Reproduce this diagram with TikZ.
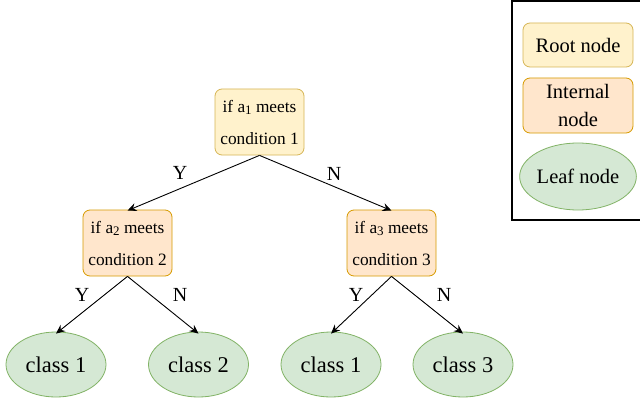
\documentclass[tikz,border=0pt]{standalone}
\usepackage{fontspec}
\setmainfont{Liberation Serif}
\usetikzlibrary{arrows.meta,shapes.geometric}

\definecolor{rootfill}{HTML}{FFF2CC}
\definecolor{rootline}{HTML}{D6B656}
\definecolor{innerfill}{HTML}{FFE6CC}
\definecolor{innerline}{HTML}{D79B00}
\definecolor{leaffill}{HTML}{D5E8D4}
\definecolor{leafline}{HTML}{82B366}

% index attached below the attribute letter
\newcommand{\attrsub}[1]{\raisebox{-0.35ex}{\fontsize{13}{13}\selectfont #1}}

\tikzset{
  rootbox/.style={draw=rootline, fill=rootfill, rounded corners=7pt, line width=0.8pt,
    minimum width=89pt, minimum height=66pt, align=center, inner sep=0pt},
  innerbox/.style={draw=innerline, fill=innerfill, rounded corners=7pt, line width=0.8pt,
    minimum width=89pt, minimum height=66pt, align=center, inner sep=0pt},
  leaf/.style={ellipse, draw=leafline, fill=leaffill, line width=0.8pt,
    minimum width=100pt, minimum height=65pt, inner sep=0pt, font=\fontsize{22.5}{26}\selectfont},
  cond/.style={font=\fontsize{17.3}{32}\selectfont},
  edge/.style={draw, line width=0.9pt, -{Stealth[length=9pt,width=8pt,inset=3pt]}},
  yn/.style={font=\fontsize{20}{22}\selectfont},
  legendtext/.style={font=\fontsize{20.5}{28}\selectfont}
}

\begin{document}
\begin{tikzpicture}[x=1pt, y=-1pt]
  \useasboundingbox (0,0) rectangle (640,404);
  \fill[white] (0,0) rectangle (640,404);

  % decision tree
  \node[rootbox, cond] (r) at (259.5,122) {if a\attrsub{1} meets\\condition 1};
  \node[innerbox, cond] (c2) at (127.5,243) {if a\attrsub{2} meets\\condition 2};
  \node[innerbox, cond] (c3) at (391.5,243) {if a\attrsub{3} meets\\condition 3};

  \node[leaf] (l1) at (56,364.5) {class 1};
  \node[leaf] (l2) at (198.5,364.5) {class 2};
  \node[leaf] (l3) at (331,364.5) {class 1};
  \node[leaf] (l4) at (463,364.5) {class 3};

  \draw[edge] (r.south) -- ([yshift=-1pt]c2.north);
  \draw[edge] (r.south) -- ([yshift=-1pt]c3.north);
  \draw[edge] (c2.south) -- ([yshift=-2pt]l1.north);
  \draw[edge] (c2.south) -- ([yshift=-2pt]l2.north);
  \draw[edge] (c3.south) -- ([yshift=-2pt]l3.north);
  \draw[edge] (c3.south) -- ([yshift=-2pt]l4.north);

  \node[yn] (y1) at (180,173) {Y};
  \node[yn] (n1) at (334,174) {N};
  \node[yn] (y2) at (82,295) {Y};
  \node[yn] (n2) at (180,295) {N};
  \node[yn] (y3) at (356,295) {Y};
  \node[yn] (n3) at (444,295) {N};

  % legend
  \draw[line width=2pt] (512,1) rectangle (642,220);
  \node[rootbox, legendtext, minimum width=110pt, minimum height=44pt] (lr) at (578,45) {Root node};
  \node[innerbox, legendtext, minimum width=110pt, minimum height=55pt] (li) at (578,105.5) {Internal\\node};
  \node[leaf, legendtext, minimum width=100pt, minimum height=67pt] (ll) at (578,176.5) {Leaf node};
\end{tikzpicture}
\end{document}
